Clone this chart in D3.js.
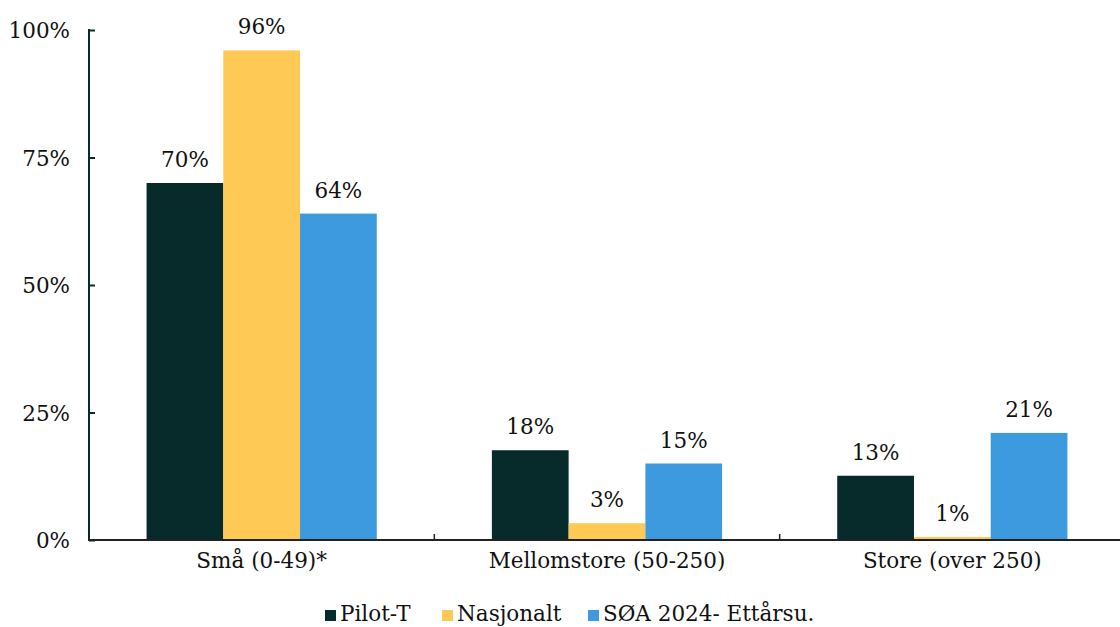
<!DOCTYPE html>
<html>
<head>
<meta charset="utf-8">
<script src="https://cdn.jsdelivr.net/npm/d3@7"></script>
<style>
  html, body { margin: 0; padding: 0; background: #ffffff; }
  svg { display: block; font-family: "DejaVu Serif", Georgia, serif; }
</style>
</head>
<body>
<svg id="chart" width="1120" height="627"></svg>
<script>
// Company size groups
const categories = ["Små (0-49)*", "Mellomstore (50-250)", "Store (over 250)"];
// Series names
const seriesNames = ["Pilot-T", "Nasjonalt", "SØA 2024- Ettårsu."];
// Shares per series, in percent, one entry per company size group
const pilotT = [70, 17.6, 12.6];
const nasjonalt = [96, 3.3, 0.6];
const soa = [64, 15, 21];
// Y-axis ticks (percent)
const yTicks = [0, 25, 50, 75, 100];

const seriesValues = [pilotT, nasjonalt, soa];
const colors = ["#072a2a", "#fec955", "#3e9ade"];

const svg = d3.select("#chart");
const fontSize = 21.5;

const x = d3.scaleBand().domain(categories).range([89, 1125]).paddingInner(0).paddingOuter(0);
const barW = x.bandwidth() / 4.5;
const xs = d3.scaleBand().domain(seriesNames).range([0, barW * 3]);
const y = d3.scaleLinear().domain([0, 100]).range([540, 30]);

// Bars with value labels
const groups = svg.append("g").selectAll("g")
  .data(categories)
  .join("g")
  .attr("transform", d => `translate(${x(d) + (x.bandwidth() - barW * 3) / 2},0)`);

groups.each(function(cat, ci) {
  const g = d3.select(this);
  const rows = seriesNames.map((s, si) => ({ s, si, v: seriesValues[si][ci] }));
  g.selectAll("rect")
    .data(rows)
    .join("rect")
    .attr("x", d => xs(d.s))
    .attr("width", xs.bandwidth())
    .attr("y", d => y(d.v))
    .attr("height", d => y(0) - y(d.v))
    .attr("fill", d => colors[d.si]);
  g.selectAll("text")
    .data(rows)
    .join("text")
    .attr("x", d => xs(d.s) + xs.bandwidth() / 2)
    .attr("y", d => y(d.v) - 16)
    .attr("text-anchor", "middle")
    .attr("font-size", fontSize)
    .attr("fill", "#111")
    .text(d => Math.round(d.v) + "%");
});

// Y axis
const yAxis = d3.axisLeft(y).tickValues(yTicks).tickFormat(d => d + "%").tickSize(-6).tickPadding(19);
const yg = svg.append("g").attr("transform", "translate(89,0)").call(yAxis);
yg.select(".domain").attr("stroke", "#0a2a2a").attr("stroke-width", 2).attr("d", "M0,29V540");
yg.selectAll(".tick line").attr("stroke", "#0a2a2a").attr("stroke-width", 2);
yg.selectAll(".tick text").attr("font-size", fontSize).attr("font-family", "DejaVu Serif").attr("fill", "#111").attr("dy", "0.35em");

// X axis with group separators
const xg = svg.append("g").attr("transform", "translate(0,540)");
xg.append("line").attr("x1", 88).attr("x2", 1120).attr("y1", 0).attr("y2", 0)
  .attr("stroke", "#222").attr("stroke-width", 2);
xg.selectAll("line.sep")
  .data(categories.slice(1))
  .join("line")
  .attr("class", "sep")
  .attr("x1", d => x(d)).attr("x2", d => x(d))
  .attr("y1", 0).attr("y2", -6)
  .attr("stroke", "#222").attr("stroke-width", 1.5);
xg.selectAll("text")
  .data(categories)
  .join("text")
  .attr("x", d => x(d) + x.bandwidth() / 2)
  .attr("y", 28)
  .attr("text-anchor", "middle")
  .attr("font-size", fontSize)
  .attr("fill", "#111")
  .text(d => d);

// Legend
const legendX = [325, 442, 588];
const lg = svg.append("g").selectAll("g")
  .data(seriesNames)
  .join("g")
  .attr("transform", (d, i) => `translate(${legendX[i]},0)`);
lg.append("rect").attr("x", 0).attr("y", 610).attr("width", 11).attr("height", 11)
  .attr("fill", (d, i) => colors[i]);
lg.append("text").attr("x", 15).attr("y", 621).attr("font-size", fontSize).attr("fill", "#111").text(d => d);
</script>
</body>
</html>
